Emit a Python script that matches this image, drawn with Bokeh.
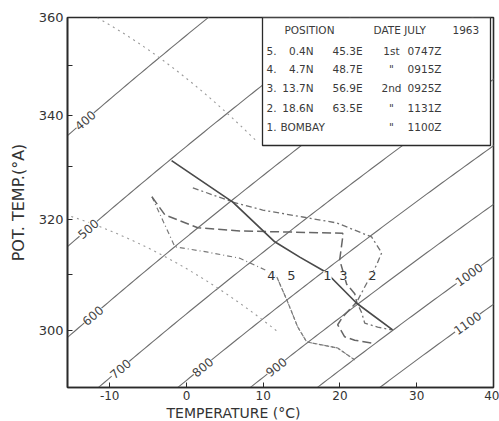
import math
import numpy as np
from bokeh.plotting import figure
from bokeh.models import Range1d, FixedTicker, PrintfTickFormatter, BoxAnnotation, Label, Title
from bokeh.embed import file_html
from bokeh.resources import INLINE

# ---------------- soundings: temperature (deg C) / potential temperature (deg A) ----------------
bombay_t = [-1.94, 6.04, 11.50, 14.76, 18.14, 22.18, 26.86]
bombay_th = [331.2, 323.3, 315.9, 313.1, 310.4, 304.8, 300.1]

s2_t = [0.83, 6.04, 9.94, 15.15, 19.57, 24.12, 25.43, 24.78, 23.22, 22.18, 22.83, 23.22, 24.91, 26.73]
s2_th = [326.0, 323.3, 321.8, 320.5, 319.4, 316.8, 313.9, 311.7, 307.7, 305.0, 303.1, 301.3, 300.6, 300.1]

s3_t = [-4.50, -2.81, 1.48, 6.95, 13.46, 20.36, 20.36, 19.96, 20.87, 21.92, 22.18, 20.36, 19.70, 20.61, 21.92, 24.26]
s3_th = [324.3, 320.9, 318.5, 317.9, 317.7, 317.5, 316.8, 312.6, 308.2, 306.5, 305.0, 302.4, 301.0, 298.9, 298.3, 297.8]

s4_t = [-4.50, -1.51, 2.79, 6.95, 10.20, 11.77, 13.07, 14.50, 15.67, 17.62, 19.70, 21.92]
s4_th = [324.3, 315.0, 314.0, 312.9, 310.8, 309.5, 305.4, 300.6, 298.0, 297.5, 296.95, 294.9]

s5_t = [11.77, 13.07, 14.50, 15.67, 17.62, 19.70, 21.92]
s5_th = [309.5, 305.4, 300.6, 298.0, 297.5, 296.95, 294.9]

# ---------------- diagram background ----------------
isobar_levels = [400, 500, 600, 700, 800, 900, 1000, 1100]          # mb
isobar_label_t = [-13.2, -12.8, -12.2, -8.6, 2.1, 11.7, 36.8, 36.6]  # where each value is written
theta_e_levels = [376.6, 328.5]                                      # saturated adiabats (deg A)
theta_e_t_end = [9.0, 12.0]
KAPPA = 0.29

x_ticks = [-10, 0, 10, 20, 30, 40]
y_ticks = [300, 320, 340, 360]
y_minor = [310, 330, 350]

# ---------------- table ----------------
table_no = ["5.", "4.", "3.", "2.", "1."]
table_lat = ["0.4N", "4.7N", "13.7N", "18.6N", ""]
table_lon = ["45.3E", "48.7E", "56.9E", "63.5E", ""]
table_day = ["1st", "\"", "2nd", "\"", "\""]
table_time = ["0747Z", "0915Z", "0925Z", "1131Z", "1100Z"]

# ---------------- figure geometry ----------------
W, H = 499, 421
B_LEFT, B_RIGHT, B_TOP, B_BOTTOM = 67, 6, 17, 34
FW, FH = W - B_LEFT - B_RIGHT, H - B_TOP - B_BOTTOM
X0, X1 = -15.5, 40.0
Y0, Y1 = 290.2, 360.0


def sx(px):
    return X0 + (px - B_LEFT) / FW * (X1 - X0)


def sy(py):
    return Y1 * math.exp(-(py - B_TOP) / FH * math.log(Y1 / Y0))


p = figure(width=W, height=H, x_range=Range1d(X0, X1), y_range=Range1d(Y0, Y1),
           y_axis_type="log", output_backend="svg", toolbar_location=None,
           min_border_left=B_LEFT, min_border_right=B_RIGHT,
           min_border_top=B_TOP, min_border_bottom=B_BOTTOM)
p.xgrid.visible = False
p.ygrid.visible = False
p.background_fill_color = "white"
p.border_fill_color = "white"
p.outline_line_color = "#2a2a2a"
p.outline_line_width = 1.6

INK = "#333333"
for ax in (p.xaxis, p.yaxis):
    ax.axis_line_color = "#2a2a2a"
    ax.axis_line_width = 1.6
    ax.major_tick_line_color = "#2a2a2a"
    ax.minor_tick_line_color = "#2a2a2a"
    ax.major_tick_in = 5
    ax.major_tick_out = 0
    ax.minor_tick_in = 5
    ax.minor_tick_out = 0
    ax.major_label_text_color = INK
    ax.major_label_text_font = "DejaVu Sans"

p.xaxis.ticker = FixedTicker(ticks=x_ticks, minor_ticks=[])
p.xaxis.major_label_text_font_size = "12px"
p.xaxis.major_label_standoff = 3
p.xaxis.major_label_overrides = {-10: "-10"}

p.yaxis.ticker = FixedTicker(ticks=y_ticks, minor_ticks=y_minor)
p.yaxis.formatter = PrintfTickFormatter(format="%d")
p.yaxis.major_label_text_font_size = "13px"
p.yaxis.major_label_standoff = 4
p.yaxis.axis_label = "POT. TEMP.(\u00b0A)"
p.yaxis.axis_label_text_font = "DejaVu Sans"
p.yaxis.axis_label_text_font_size = "16px"
p.yaxis.axis_label_text_font_style = "normal"
p.yaxis.axis_label_text_color = INK
p.yaxis.axis_label_standoff = 8

p.add_layout(Title(text="TEMPERATURE (\u00b0C)", align="left", offset=99, standoff=0,
                   text_font="DejaVu Sans", text_font_size="14px",
                   text_font_style="normal", text_color=INK), "below")

# isobars
t_grid = np.linspace(X0 - 1, X1 + 1, 120)
for pres in isobar_levels:
    p.line(t_grid, (t_grid + 273.15) * (1000.0 / pres) ** KAPPA,
           line_color="#6e6e6e", line_width=1.1)


# saturated (pseudo) adiabats
def saturated_adiabat(theta_e, t):
    tk = t + 273.15
    lo = np.full_like(t, 100.0)
    hi = np.full_like(t, 1100.0)
    es = 6.112 * np.exp(17.67 * t / (t + 243.5))
    for _ in range(60):
        mid = 0.5 * (lo + hi)
        ws = 0.622 * es / (mid - es)
        te = tk * (1000.0 / mid) ** KAPPA * np.exp(2.5e6 * ws / (1004.0 * tk))
        low_p = te > theta_e
        lo = np.where(low_p, mid, lo)
        hi = np.where(low_p, hi, mid)
    pm = 0.5 * (lo + hi)
    return tk * (1000.0 / pm) ** KAPPA


for te_val, t_end in zip(theta_e_levels, theta_e_t_end):
    tt = np.linspace(X0 - 1, t_end, 80)
    p.line(tt, saturated_adiabat(te_val, tt), line_color="#9a9a9a",
           line_width=1.1, line_dash="2 4")

# soundings
p.line(s4_t, s4_th, line_color="#7a7a7a", line_width=1.2, line_dash="5 3 1 3")
p.line(s5_t, s5_th, line_color="#7a7a7a", line_width=1.2, line_dash="5 3 1 3")
p.line(s3_t, s3_th, line_color="#666666", line_width=1.5, line_dash="9 4")
p.line(s2_t, s2_th, line_color="#707070", line_width=1.3, line_dash="6 3 2 3")
p.line(bombay_t, bombay_th, line_color="#4a4a4a", line_width=1.7)

# isobar values written along the lines
dx_px = FW / (X1 - X0)
dy_px = FH / math.log(Y1 / Y0)
for pres, tl in zip(isobar_levels, isobar_label_t):
    th = (tl + 273.15) * (1000.0 / pres) ** KAPPA
    ang = math.atan2(dy_px / (tl + 273.15), dx_px)
    p.add_layout(Label(x=tl, y=th, text=str(pres), angle=ang, angle_units="rad",
                       text_align="center", text_baseline="middle",
                       text_font="DejaVu Sans", text_font_size="12px", text_color="#444444",
                       background_fill_color="white", background_fill_alpha=1.0))

# sounding numbers
for txt, px in [("4", 271), ("5", 291), ("1", 327), ("3", 343), ("2", 372)]:
    p.add_layout(Label(x=sx(px), y=sy(275), text=txt, text_align="center",
                       text_baseline="middle", text_font="DejaVu Sans",
                       text_font_size="13px", text_color=INK,
                       background_fill_color="white", background_fill_alpha=1.0))

# key box
p.add_layout(BoxAnnotation(left=sx(262), right=sx(490), top=Y1, bottom=sy(145),
                           fill_color="white", fill_alpha=1.0,
                           line_color="#2a2a2a", line_width=1.3, line_alpha=1.0))


def cell(txt, px, py, align="left"):
    p.add_layout(Label(x=sx(px), y=sy(py), text=txt, text_align=align,
                       text_baseline="middle", text_font="DejaVu Sans",
                       text_font_size="10.5px", text_color="#3a3a3a"))


cell("POSITION", 284, 29)
cell("DATE JULY", 373, 29)
cell("1963", 452, 29)
row_y = [50, 68, 87, 107, 126]
for i, ry in enumerate(row_y):
    cell(table_no[i], 266, ry)
    if table_lat[i]:
        cell(table_lat[i], 313, ry, "right")
        cell(table_lon[i], 332, ry)
    else:
        cell("BOMBAY", 280, ry)
    cell(table_day[i], 391, ry, "center")
    cell(table_time[i], 441, ry, "right")

open("out.html", "w").write(file_html(p, INLINE))
